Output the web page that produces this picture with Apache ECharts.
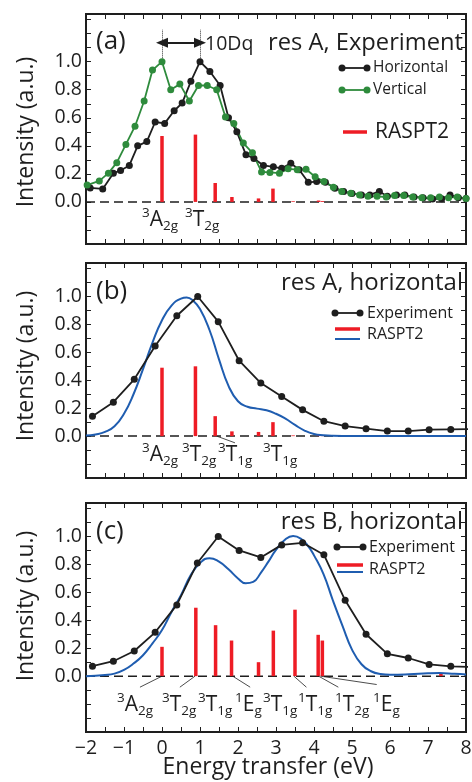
<!DOCTYPE html>
<html>
<head>
<meta charset="utf-8">
<script src="https://cdn.jsdelivr.net/npm/echarts@6/dist/echarts.min.js"></script>
<style>
  html, body { margin: 0; padding: 0; background: #fff; }
  #chart { width: 472px; height: 782px; }
</style>
</head>
<body>
<div id="chart"></div>
<script>
// Energy axis range (eV)
const energyRange = [-2, 8];

// (a) res A, experiment: horizontal polarisation
const aHorE = [-1.89,-1.56,-1.28,-1.09,-0.86,-0.64,-0.40,-0.18,0.07,0.32,0.53,0.76,1.0,1.26,1.53,1.75,1.97,2.21,2.42,2.67,2.93,3.15,3.39,3.61,3.85,4.07,4.30,4.55,4.78,5.0,5.25,5.47,5.72,5.93,6.17,6.39,6.63,6.87,7.12,7.36,7.58,7.80,8.0];
const aHorI = [0.10,0.093,0.205,0.224,0.26,0.40,0.43,0.57,0.56,0.65,0.705,0.86,1.0,0.93,0.83,0.60,0.50,0.336,0.31,0.26,0.25,0.24,0.276,0.23,0.14,0.145,0.14,0.098,0.075,0.06,0.05,0.05,0.075,0.04,0.05,0.05,0.035,0.03,0.02,0.023,0.05,0.03,0.025];
// (a) res A, experiment: vertical polarisation
const aVerE = [-1.97,-1.65,-1.41,-1.19,-0.95,-0.71,-0.47,-0.25,0.0,0.23,0.47,0.72,0.96,1.19,1.44,1.67,1.89,2.14,2.38,2.62,2.84,3.09,3.32,3.56,3.79,4.03,4.26,4.51,4.73,4.97,5.2,5.42,5.66,5.9,6.12,6.36,6.6,6.84,7.07,7.3,7.54,7.77,8.0];
const aVerI = [0.12,0.15,0.205,0.28,0.41,0.54,0.72,0.94,1.0,0.80,0.84,0.72,0.83,0.83,0.80,0.605,0.56,0.42,0.35,0.214,0.21,0.205,0.236,0.23,0.233,0.18,0.145,0.105,0.074,0.062,0.05,0.04,0.04,0.035,0.045,0.045,0.035,0.03,0.03,0.035,0.03,0.035,0.025];
// (a) RASPT2 transitions
const aStickE = [0.0,0.88,1.40,1.84,2.54,2.92,3.45,4.12,4.22];
const aStickI = [0.47,0.48,0.135,0.035,0.025,0.095,0.005,0.01,0.006];

// (b) res A, horizontal
const bExpE = [-1.83,-1.28,-0.73,-0.18,0.39,0.94,1.48,2.03,2.60,3.15,3.70,4.26,4.82,5.37,5.93,6.48,7.03,7.6,8.15];
const bExpI = [0.143,0.243,0.407,0.645,0.862,1.0,0.82,0.54,0.38,0.284,0.188,0.107,0.072,0.053,0.036,0.036,0.046,0.048,0.05];
const bFitE = [-2.0,-1.75,-1.5,-1.25,-1.0,-0.75,-0.5,-0.25,0.0,0.25,0.5,0.65,0.8,1.0,1.25,1.5,1.75,2.0,2.25,2.5,2.75,3.0,3.25,3.5,3.75,4.0,4.25,4.5,5.0,6.0,7.0,8.0];
const bFitI = [0.004,0.012,0.03,0.07,0.16,0.30,0.48,0.67,0.83,0.935,0.985,0.993,0.975,0.91,0.76,0.55,0.36,0.25,0.21,0.197,0.185,0.16,0.125,0.08,0.04,0.015,0.006,0.002,0,0,0,0];
const bStickE = [0.0,0.88,1.40,1.84,2.54,2.92,3.45,4.12,4.22];
const bStickI = [0.49,0.50,0.143,0.034,0.03,0.10,0.005,0.01,0.006];

// (c) res B, horizontal
const cExpE = [-1.83,-1.28,-0.73,-0.18,0.39,0.93,1.48,2.03,2.60,3.15,3.70,4.26,4.82,5.37,5.93,6.48,7.03,7.6,8.15];
const cExpI = [0.071,0.107,0.18,0.314,0.51,0.81,1.0,0.90,0.85,0.94,0.955,0.87,0.543,0.30,0.16,0.13,0.084,0.07,0.065];
const cFitE = [-2.0,-1.5,-1.25,-1.0,-0.75,-0.5,-0.25,0.0,0.25,0.5,0.75,1.0,1.25,1.5,1.75,2.0,2.2,2.4,2.6,2.8,3.0,3.25,3.45,3.65,3.85,4.0,4.25,4.5,4.75,5.0,5.25,5.5,5.75,6.0,6.5,7.0,7.3,7.7,8.0];
const cFitI = [0.0,0.008,0.018,0.045,0.09,0.15,0.235,0.33,0.46,0.58,0.72,0.81,0.845,0.82,0.765,0.70,0.665,0.675,0.74,0.82,0.905,0.98,1.003,0.985,0.93,0.865,0.73,0.54,0.36,0.19,0.085,0.035,0.015,0.01,0.013,0.02,0.022,0.017,0.012];
const cStickE = [0.0,0.89,1.41,1.83,2.54,2.93,3.50,4.11,4.22,7.34];
const cStickI = [0.21,0.49,0.365,0.255,0.10,0.326,0.476,0.296,0.255,0.02];

// Leader lines from transitions down to their term labels [from, to] in (eV, intensity)
const bLinks = [[[1.44,0],[1.92,-0.048]]];
const cLinks = [
  [[0.0,0],[-0.58,-0.079]],
  [[0.87,0],[0.47,-0.079]],
  [[1.86,0],[2.32,-0.079]],
  [[3.47,0],[3.8,-0.079]],
  [[4.12,0],[4.64,-0.079]],
  [[4.17,0],[5.65,-0.06]]
];

// 10Dq marker between the two main peaks
const dqX = [0, 1];
const dqArrowY = 1.135;
const dqGuide = [1.0, 1.23];

// Term symbols: [multiplicity, letter, subscript]
const aTerms = [['3','A','2g'],['3','T','2g']];
const bTerms = [['3','A','2g'],['3','T','2g'],['3','T','1g'],['3','T','1g']];
const cTerms = [['3','A','2g'],['3','T','2g'],['3','T','1g'],['1','E','g'],['3','T','1g'],['1','T','1g'],['1','T','2g'],['1','E','g']];

const FONT = "'Open Sans', 'DejaVu Sans', sans-serif";
const INK = '#1e1e1e';
const GREEN = '#2e8b3c';
const RED = '#ee1c25';
const BLUE = '#1f5db0';

const zip = (xs, ys) => xs.map((x, i) => [x, ys[i]]);

const grids = [
  { left: 86, top: 14, width: 380, height: 230, yMin: -0.3, yMax: 1.34 },
  { left: 86, top: 263, width: 380, height: 215, yMin: -0.3, yMax: 1.24 },
  { left: 86, top: 503, width: 380, height: 229, yMin: -0.4, yMax: 1.24 }
];

const tickStyle = { inside: true, length: 5, lineStyle: { color: INK, width: 1 } };
const noLine = { show: false, onZero: false };

const xAxes = [], yAxes = [];
grids.forEach((g, gi) => {
  const base = {
    type: 'value', gridIndex: gi, min: energyRange[0], max: energyRange[1], interval: 0.5,
    axisLine: noLine, splitLine: { show: false }, axisTick: tickStyle
  };
  xAxes.push(Object.assign({}, base, {
    position: 'bottom',
    axisLabel: {
      show: gi === 2, fontFamily: FONT, fontSize: 19.5, color: INK, margin: 6,
      formatter: v => {
        const r = Math.round(v * 2);
        if (r % 2 !== 0) return '';
        const n = r / 2;
        return n < 0 ? '\u2212' + (-n) : String(n);
      }
    }
  }));
  xAxes.push(Object.assign({}, base, { position: 'top', axisLabel: { show: false } }));
  const ybase = {
    type: 'value', gridIndex: gi, min: g.yMin, max: g.yMax, interval: 0.1,
    axisLine: noLine, splitLine: { show: false }, axisTick: tickStyle
  };
  yAxes.push(Object.assign({}, ybase, {
    position: 'left',
    axisLabel: {
      fontFamily: FONT, fontSize: 19.5, color: INK, margin: 4,
      formatter: v => {
        const t = Math.round(v * 10);
        if (t < 0 || t > 10 || t % 2 !== 0) return '';
        return (t / 10).toFixed(1);
      }
    }
  }));
  yAxes.push(Object.assign({}, ybase, { position: 'right', axisLabel: { show: false } }));
});

function baseline(gi) {
  return {
    type: 'line', xAxisIndex: gi * 2, yAxisIndex: gi * 2, z: 1, silent: true,
    data: energyRange.map(x => [x, 0]), symbol: 'none',
    lineStyle: { color: INK, width: 1.5, type: [9, 5] }
  };
}
function sticks(gi, es, is, markLine) {
  const s = {
    type: 'bar', xAxisIndex: gi * 2, yAxisIndex: gi * 2, z: 3, silent: true,
    data: zip(es, is), barWidth: 3.5, itemStyle: { color: RED }
  };
  if (markLine) s.markLine = markLine;
  return s;
}
function expLine(gi, es, is, color, size) {
  return {
    type: 'line', xAxisIndex: gi * 2, yAxisIndex: gi * 2, z: 5, silent: true,
    data: zip(es, is), symbol: 'circle', symbolSize: size, showSymbol: true,
    lineStyle: { color: color, width: 1.8 }, itemStyle: { color: color }
  };
}
function fitLine(gi, es, is) {
  return {
    type: 'line', xAxisIndex: gi * 2, yAxisIndex: gi * 2, z: 4, silent: true,
    data: zip(es, is), symbol: 'none', smooth: 0.5,
    lineStyle: { color: BLUE, width: 2 }
  };
}
function leaders(links) {
  return {
    silent: true, symbol: ['none', 'none'], label: { show: false },
    lineStyle: { color: INK, width: 0.8, type: 'solid' },
    data: links.map(l => [{ coord: l[0] }, { coord: l[1] }])
  };
}

const dqMarks = {
  silent: true, symbol: ['none', 'none'], label: { show: false },
  lineStyle: { color: '#333', width: 1, type: 'dotted' },
  data: [
    [{ coord: [dqX[0], dqGuide[0]] }, { coord: [dqX[0], dqGuide[1]] }],
    [{ coord: [dqX[1], dqGuide[0]] }, { coord: [dqX[1], dqGuide[1]] }],
    [{ coord: [dqX[0], dqArrowY], symbol: 'triangle', symbolSize: [10, 12],
       lineStyle: { type: 'solid', width: 1.8, color: INK } },
     { coord: [dqX[1], dqArrowY], symbol: 'triangle', symbolSize: [10, 12] }]
  ]
};

const series = [
  baseline(0),
  sticks(0, aStickE, aStickI, dqMarks),
  expLine(0, aHorE, aHorI, INK, 7),
  expLine(0, aVerE, aVerI, GREEN, 7),
  baseline(1),
  sticks(1, bStickE, bStickI, leaders(bLinks)),
  fitLine(1, bFitE, bFitI),
  expLine(1, bExpE, bExpI, INK, 7),
  baseline(2),
  sticks(2, cStickE, cStickI, leaders(cLinks)),
  fitLine(2, cFitE, cFitI),
  expLine(2, cExpE, cExpI, INK, 7)
];

// ----- text and legend keys -----
const measureCtx = document.createElement('canvas').getContext('2d');
function textWidth(str, size) {
  measureCtx.font = size + 'px ' + FONT;
  return measureCtx.measureText(str).width;
}
function text(x, y, str, size, align, extra) {
  return Object.assign({
    type: 'text', x: x, y: y, silent: true, z: 100,
    style: {
      text: str, fontFamily: FONT, fontSize: size, fill: INK,
      align: align || 'left', verticalAlign: 'middle',
      textAlign: align || 'left', textVerticalAlign: 'middle'
    }
  }, extra || {});
}
// Term symbol: superscript multiplicity, main letter, subscript symmetry label
const TERM_MAIN = 21, TERM_SMALL = 13.5;
function term(x, y, t) {
  const wSup = textWidth(t[0], TERM_SMALL);
  const wMain = textWidth(t[1], TERM_MAIN);
  return [
    text(x, y - 7, t[0], TERM_SMALL),
    text(x + wSup, y, t[1], TERM_MAIN),
    text(x + wSup + wMain, y + 6, t[2], TERM_SMALL)
  ];
}
function expKey(x1, x2, y, color) {
  return [
    { type: 'line', silent: true, z: 100, shape: { x1: x1, y1: y, x2: x2, y2: y }, style: { stroke: color, lineWidth: 1.8 } },
    { type: 'circle', silent: true, z: 101, shape: { cx: x1, cy: y, r: 3.5 }, style: { fill: color } },
    { type: 'circle', silent: true, z: 101, shape: { cx: x2, cy: y, r: 3.5 }, style: { fill: color } }
  ];
}
function barKey(x1, x2, y, color, w) {
  return { type: 'line', silent: true, z: 100, shape: { x1: x1, y1: y, x2: x2, y2: y }, style: { stroke: color, lineWidth: w } };
}

const graphics = [];
// axis titles
[132, 366, 606].forEach(yc => graphics.push(text(0, 0, 'Intensity (a.u.)', 23, 'center', { x: 26, y: yc, rotation: Math.PI / 2 })));
graphics.push(text(268, 767, 'Energy transfer (eV)', 23, 'center'));
// panel tags and titles
graphics.push(text(96, 42, '(a)', 26));
graphics.push(text(96, 292, '(b)', 26));
graphics.push(text(96, 532, '(c)', 26));
graphics.push(text(463, 43, 'res A, Experiment', 23.7, 'right'));
graphics.push(text(463, 283, 'res A, horizontal', 24, 'right'));
graphics.push(text(463, 522, 'res B, horizontal', 24, 'right'));
graphics.push(text(205, 44, '10Dq', 19.5));
// legend (a)
graphics.push(...expKey(342, 367, 68, INK), text(373, 68, 'Horizontal', 15.5));
graphics.push(...expKey(342, 367, 90, GREEN), text(373, 90, 'Vertical', 15.5));
graphics.push(barKey(343, 367, 132, RED, 3.5), text(375, 132, 'RASPT2', 21));
// legend (b)
graphics.push(...expKey(335, 360, 313, INK), text(367, 313, 'Experiment', 16));
graphics.push(barKey(335, 360, 329, RED, 3.5), barKey(335, 360, 339, BLUE, 2), text(367, 334, 'RASPT2', 16));
// legend (c)
graphics.push(...expKey(337, 363, 547, INK), text(369, 547, 'Experiment', 16));
graphics.push(barKey(337, 363, 565, RED, 3.5), barKey(337, 363, 572, BLUE, 2), text(369, 569, 'RASPT2', 16));
// term labels
[142, 185].forEach((x, i) => graphics.push(...term(x, 220, aTerms[i])));
[142, 182, 218, 263].forEach((x, i) => graphics.push(...term(x, 455, bTerms[i])));
[117, 162, 198, 235, 263, 298, 335, 373].forEach((x, i) => graphics.push(...term(x, 705, cTerms[i])));

const chart = echarts.init(document.getElementById('chart'), null, { renderer: 'canvas' });
chart.setOption({
  animation: false,
  backgroundColor: '#fff',
  textStyle: { fontFamily: FONT },
  grid: grids.map(g => ({
    left: g.left, top: g.top, width: g.width, height: g.height,
    show: true, borderColor: INK, borderWidth: 2, backgroundColor: 'transparent',
    containLabel: false, outerBoundsMode: 'none'
  })),
  xAxis: xAxes,
  yAxis: yAxes,
  series: series,
  graphic: { elements: graphics }
});
</script>
</body>
</html>
